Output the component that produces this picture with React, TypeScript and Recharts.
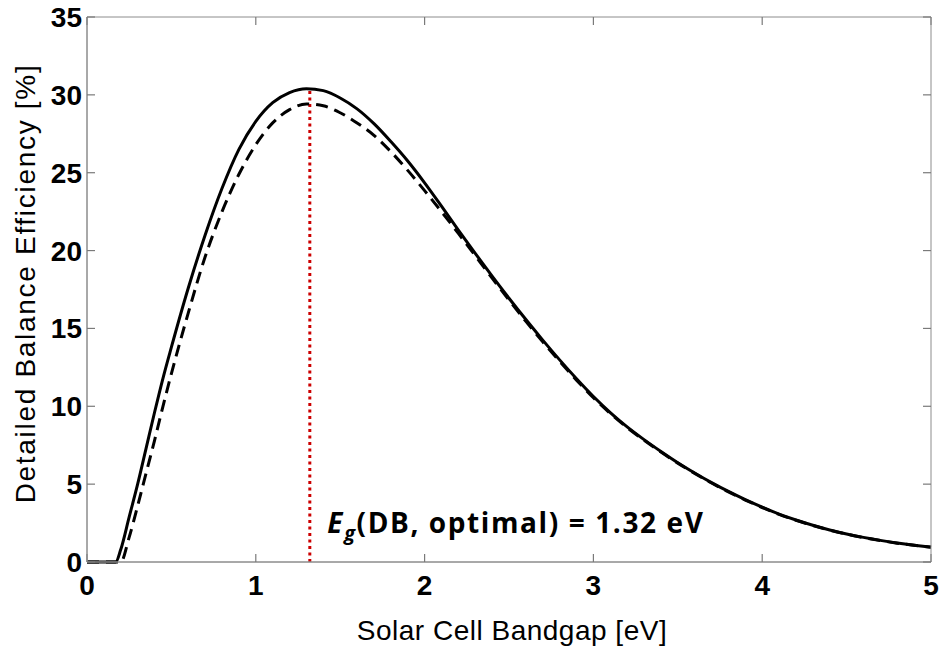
import { LineChart, Line, XAxis, YAxis, ReferenceLine, ReferenceDot } from 'recharts';

// Bandgap grid [eV]
const bandgap = [
  0, 0.1, 0.17, 0.2, 0.25, 0.3, 0.35, 0.4, 0.45, 0.5, 0.6, 0.7, 0.8, 0.9, 1.0, 1.1, 1.2, 1.3, 1.4,
  1.5, 1.6, 1.7, 1.8, 1.9, 2.0, 2.1, 2.2, 2.3, 2.4, 2.5, 2.6, 2.7, 2.8, 2.9, 3.0, 3.1, 3.2, 3.3, 3.4,
  3.5, 3.6, 3.7, 3.8, 3.9, 4.0, 4.1, 4.2, 4.3, 4.4, 4.5, 4.6, 4.7, 4.8, 4.9, 5.0,
];

// Detailed balance efficiency [%], solid curve
const solidEff = [
  0, 0, 0, 0.8, 2.9, 5.0, 7.3, 9.6, 11.8, 13.8, 17.6, 21.0, 24.0, 26.5, 28.3, 29.5, 30.15, 30.4, 30.27,
  29.8, 29.1, 28.15, 27.0, 25.75, 24.35, 22.85, 21.32, 19.82, 18.36, 16.94, 15.57, 14.25, 12.98, 11.77, 10.63, 9.6, 8.68, 7.86, 7.1,
  6.38, 5.72, 5.1, 4.53, 4.0, 3.52, 3.08, 2.7, 2.36, 2.06, 1.8, 1.58, 1.39, 1.22, 1.08, 0.96,
];

// Detailed balance efficiency [%], dashed curve
const dashedEff = [
  0, 0, 0, 0, 1.6, 3.6, 5.7, 7.8, 10.0, 12.1, 16.0, 19.6, 22.5, 24.9, 26.8, 28.2, 29.05, 29.42, 29.3,
  28.85, 28.2, 27.4, 26.35, 25.15, 23.85, 22.5, 21.1, 19.67, 18.23, 16.82, 15.45, 14.14, 12.88, 11.68, 10.55, 9.54, 8.63, 7.82, 7.06,
  6.35, 5.69, 5.07, 4.5, 3.98, 3.5, 3.06, 2.68, 2.35, 2.05, 1.79, 1.57, 1.38, 1.21, 1.07, 0.95,
];

const xTicks = [0, 1, 2, 3, 4, 5];
const yTicks = [0, 5, 10, 15, 20, 25, 30, 35];
const optimalGap = 1.32;
const optimalEff = 30.4;

const tableData = bandgap.map((x, i) => ({ x, solid: solidEff[i], dashed: dashedEff[i] }));

const axisColor = '#8c8c8c';
const tickLineStyle = { stroke: '#7a7a7a', strokeWidth: 1.2 };
const tickFont = { fontFamily: '"Liberation Sans", Arial, sans-serif', fontSize: 28, fontWeight: 700, fill: '#000' };
const labelFont = '"Liberation Sans", Arial, sans-serif';
const noLabel = () => '';

export default function App() {
  return (
    <div style={{ position: 'absolute', left: 0, top: 0, width: 940, height: 647, background: '#fff' }}>
      <LineChart width={940} height={647} data={tableData} margin={{ top: 17, right: 9, left: 0, bottom: 0 }}>
        {/* main axes: labels only */}
        <XAxis
          dataKey="x"
          type="number"
          domain={[0, 5]}
          ticks={xTicks}
          height={85}
          stroke={axisColor}
          tickLine={false}
          tickSize={0}
          tickMargin={13}
          tick={tickFont}
          label={{
            content: ({ viewBox }: any) => (
              <text
                x={viewBox.x + viewBox.width / 2 + 3}
                y={640}
                textAnchor="middle"
                fontFamily={labelFont}
                fontSize={28}
                letterSpacing={0.5}
                fill="#000"
              >
                Solar Cell Bandgap [eV]
              </text>
            ),
          }}
        />
        <YAxis
          type="number"
          domain={[0, 35]}
          ticks={yTicks}
          width={87}
          stroke={axisColor}
          tickLine={false}
          tickSize={0}
          tickMargin={5}
          tick={tickFont}
          label={{
            content: ({ viewBox }: any) => {
              const cx = 35;
              const cy = viewBox.y + viewBox.height / 2 - 6;
              return (
                <text
                  x={cx}
                  y={cy}
                  transform={`rotate(-90, ${cx}, ${cy})`}
                  textAnchor="middle"
                  fontFamily={labelFont}
                  fontSize={28}
                  letterSpacing={1.7}
                  fill="#000"
                >
                  Detailed Balance Efficiency [%]
                </text>
              );
            },
          }}
        />
        {/* mirrored axes: inward tick marks on all four sides */}
        <XAxis
          xAxisId="bottomTicks"
          dataKey="x"
          orientation="bottom"
          mirror
          type="number"
          domain={[0, 5]}
          ticks={xTicks}
          height={1}
          stroke={axisColor}
          tickLine={tickLineStyle}
          tickSize={8}
          tickFormatter={noLabel}
        />
        <XAxis
          xAxisId="topTicks"
          dataKey="x"
          orientation="top"
          mirror
          type="number"
          domain={[0, 5]}
          ticks={xTicks}
          height={1}
          stroke={axisColor}
          tickLine={tickLineStyle}
          tickSize={8}
          tickFormatter={noLabel}
        />
        <YAxis
          yAxisId="leftTicks"
          orientation="left"
          mirror
          type="number"
          domain={[0, 35]}
          ticks={yTicks}
          width={1}
          stroke={axisColor}
          tickLine={tickLineStyle}
          tickSize={8}
          tickFormatter={noLabel}
        />
        <YAxis
          yAxisId="rightTicks"
          orientation="right"
          mirror
          type="number"
          domain={[0, 35]}
          ticks={yTicks}
          width={1}
          stroke={axisColor}
          tickLine={tickLineStyle}
          tickSize={8}
          tickFormatter={noLabel}
        />
        {/* invisible series so the tick-only axes get scales */}
        <Line
          xAxisId="topTicks"
          yAxisId="leftTicks"
          dataKey="solid"
          stroke="none"
          dot={false}
          activeDot={false}
          isAnimationActive={false}
        />
        <Line
          xAxisId="bottomTicks"
          yAxisId="rightTicks"
          dataKey="solid"
          stroke="none"
          dot={false}
          activeDot={false}
          isAnimationActive={false}
        />
        <ReferenceLine
          segment={[
            { x: optimalGap, y: 0 },
            { x: optimalGap, y: optimalEff },
          ]}
          stroke="#cc0000"
          strokeWidth={3}
          strokeDasharray="3 3.5"
        />
        <Line
          type="monotone"
          dataKey="dashed"
          stroke="#000"
          strokeWidth={3}
          strokeDasharray="12 7"
          dot={false}
          isAnimationActive={false}
        />
        <Line
          type="monotone"
          dataKey="solid"
          stroke="#000"
          strokeWidth={3}
          dot={false}
          isAnimationActive={false}
        />
        <ReferenceDot
          x={1.424}
          y={1.85}
          r={0}
          fill="none"
          stroke="none"
          label={{
            content: ({ viewBox }: any) => (
              <text
                x={viewBox.x}
                y={viewBox.y}
                fontFamily="'Open Sans', Lato, sans-serif"
                fontWeight={700}
                fontSize={28}
                letterSpacing={1.6}
                fill="#000"
              >
                <tspan fontStyle="italic">E</tspan>
                <tspan fontStyle="italic" fontSize={20} dy={7}>g</tspan>
                <tspan dy={-7}>(DB, optimal) = 1.32 eV</tspan>
              </text>
            ),
          }}
        />
      </LineChart>
    </div>
  );
}
